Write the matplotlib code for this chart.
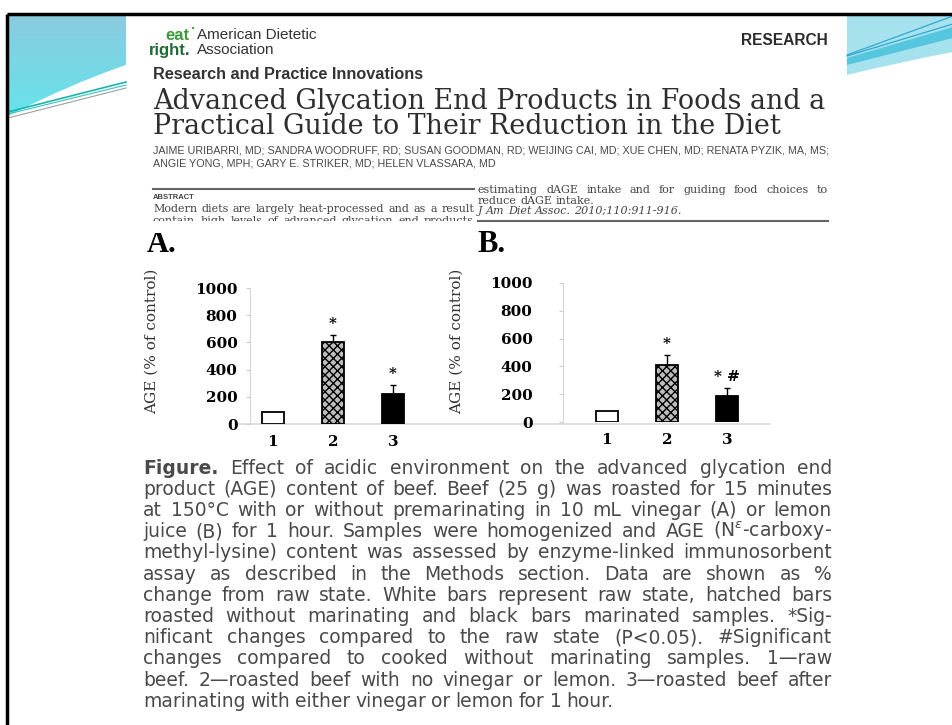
import numpy as np
import matplotlib.pyplot as plt
from matplotlib.patches import Rectangle, PathPatch
from matplotlib.path import Path
from matplotlib.colors import LinearSegmentedColormap

W, H = 953, 725

# AGE content, % of control (1 raw, 2 roasted, 3 marinated + roasted)
groups = ['1', '2', '3']
vinegar_age = [90, 606, 222]
vinegar_err = [0, 50, 62]
lemon_age = [80, 412, 190]
lemon_err = [0, 68, 55]
vinegar_marks = ['', '*', '*']
lemon_marks = ['', '*', '* #']
y_ticks = [0, 200, 400, 600, 800, 1000]

title_lines = ['Advanced Glycation End Products in Foods and a',
               'Practical Guide to Their Reduction in the Diet']
author_lines = ['JAIME URIBARRI, MD; SANDRA WOODRUFF, RD; SUSAN GOODMAN, RD; WEIJING CAI, MD; '
                'XUE CHEN, MD; RENATA PYZIK, MA, MS;',
                'ANGIE YONG, MPH; GARY E. STRIKER, MD; HELEN VLASSARA, MD']
caption_lines = [
    'Figure. Effect of acidic environment on the advanced glycation end',
    'product (AGE) content of beef. Beef (25 g) was roasted for 15 minutes',
    'at 150°C with or without premarinating in 10 mL vinegar (A) or lemon',
    r'juice (B) for 1 hour. Samples were homogenized and AGE (N$^{\epsilon}$-carboxy-',
    'methyl-lysine) content was assessed by enzyme-linked immunosorbent',
    'assay as described in the Methods section. Data are shown as %',
    'change from raw state. White bars represent raw state, hatched bars',
    'roasted without marinating and black bars marinated samples. *Sig-',
    'nificant changes compared to the raw state (P<0.05). #Significant',
    'changes compared to cooked without marinating samples. 1—raw',
    'beef. 2—roasted beef with no vinegar or lemon. 3—roasted beef after',
    'marinating with either vinegar or lemon for 1 hour.',
]

fig = plt.figure(figsize=(W / 100, H / 100), dpi=100)
r = fig.canvas.get_renderer()

# full-size layer in pixel units for the slide and page furniture
bg = fig.add_axes([0, 0, 1, 1])
bg.set_xlim(0, W)
bg.set_ylim(H, 0)
bg.axis('off')
bg.set_zorder(0)


def fit(x0, x1, y, s, **kw):
    t = bg.text(x0, y, s, va='center', **kw)
    w = t.get_window_extent(r).width
    t.set_fontsize(t.get_fontsize() * (x1 - x0) / w)
    return t


def justify(x0, x1, y, line, last=False, space=5, **kw):
    words = line.split(' ')
    items = []
    for w in words:
        weight = 'bold' if w == 'Figure.' else 'normal'
        items.append(bg.text(x0, y, w, va='center', fontweight=weight, **kw))
    widths = [t.get_window_extent(r).width for t in items]
    gap = space if last else (x1 - x0 - sum(widths)) / (len(words) - 1)
    x = x0
    for t, w in zip(items, widths):
        t.set_x(x)
        x += w + gap


# slide corner swooshes
grad = np.linspace(0, 1, 100).reshape(-1, 1)
left_shape = Path([(8, 15), (126, 15), (126, 65), (70, 84), (8, 116), (8, 15)],
                  [Path.MOVETO, Path.LINETO, Path.LINETO, Path.CURVE3, Path.CURVE3, Path.CLOSEPOLY])
clip = PathPatch(left_shape, transform=bg.transData, facecolor='none', edgecolor='none')
bg.add_patch(clip)
im = bg.imshow(grad, extent=[8, 126, 118, 15],
               cmap=LinearSegmentedColormap.from_list('sw', ['#8acbdf', '#66e4ea']),
               aspect='auto', zorder=1)
im.set_clip_path(clip)
bg.plot([8, 126], [112, 82], color='#19b3ae', lw=1.2, zorder=2)
bg.plot([8, 126], [114, 85], color='#39c3c0', lw=0.8, zorder=2)
bg.plot([8, 126], [118, 88], color='#a0a0a0', lw=0.8, zorder=2)

right_shape = Path([(847, 15), (953, 15), (953, 52), (900, 62), (847, 75), (847, 15)],
                   [Path.MOVETO, Path.LINETO, Path.LINETO, Path.CURVE3, Path.CURVE3, Path.CLOSEPOLY])
bg.add_patch(PathPatch(right_shape, facecolor='#a6e2ee', edgecolor='none', zorder=1))
band = Path([(847, 58), (953, 27), (953, 38), (847, 65), (847, 58)],
            [Path.MOVETO, Path.LINETO, Path.LINETO, Path.LINETO, Path.CLOSEPOLY])
bg.add_patch(PathPatch(band, facecolor='#56c5de', edgecolor='none', zorder=1))
bg.plot([847, 953], [55, 16], color='#2fa9cf', lw=0.9, zorder=2)
bg.plot([847, 953], [56, 24], color='#2fa9cf', lw=0.9, zorder=2)

# slide frame
bg.plot([7.5, W], [14, 14], color='black', lw=2.5, zorder=3, solid_capstyle='butt')
bg.plot([7.5, 7.5], [14, H], color='black', lw=2.5, zorder=3, solid_capstyle='butt')

# journal header
bg.text(165, 40, 'eat', color='#3c9a3c', fontweight='bold', fontsize=12, va='baseline',
        family='Liberation Sans')
bg.text(191, 29, '·', color='#3c9a3c', fontweight='bold', fontsize=8, va='center')
bg.text(149, 55, 'right.', color='#1f6a35', fontweight='bold', fontsize=12, va='baseline',
        family='Liberation Sans')
bg.text(197, 35, 'American Dietetic', color='#333333', fontsize=11, va='center', family='Liberation Sans')
bg.text(197, 50, 'Association', color='#333333', fontsize=11, va='center', family='Liberation Sans')
fit(741, 828, 40, 'RESEARCH', fontweight='bold', color='#2b2b2b', family='Liberation Sans')
fit(153, 423, 74, 'Research and Practice Innovations', fontweight='bold', color='#333333',
    family='Liberation Sans')

t = fit(153, 828, 101, title_lines[0], family='DejaVu Serif', color='#2e2e2e')
bg.text(153, 126, title_lines[1], va='center', family='DejaVu Serif', color='#2e2e2e',
        fontsize=t.get_fontsize())
t = fit(153, 828, 150, author_lines[0], family='Liberation Sans', color='#4a4a4a')
bg.text(153, 163, author_lines[1], va='center', family='Liberation Sans', color='#4a4a4a',
        fontsize=t.get_fontsize())

# abstract columns, cut by the figure below
abs_kw = dict(family='DejaVu Serif', color='#444444', fontsize=8)
bg.plot([153, 474], [189, 189], color='#666666', lw=1.5)
bg.text(153, 197, 'ABSTRACT', va='center', fontsize=5.5, fontweight='bold', color='#444444',
        family='Liberation Sans')
justify(153, 474, 209, 'Modern diets are largely heat-processed and as a result', **abs_kw)
justify(153, 474, 221, 'contain high levels of advanced glycation end products', **abs_kw)
bg.add_patch(Rectangle((140, 221), 336, 12, facecolor='white', edgecolor='none', zorder=5))
justify(478, 828, 190, 'estimating dAGE intake and for guiding food choices to', **abs_kw)
justify(478, 828, 200.5, 'reduce dAGE intake.', last=True, space=3.5, **abs_kw)
justify(478, 828, 211, 'J Am Diet Assoc. 2010;110:911-916.', last=True, space=3.5,
        style='italic', **abs_kw)
bg.plot([478, 828], [221, 221], color='#666666', lw=1.5)

# panel letters and axis titles
bg.text(147, 244, 'A.', va='center', fontsize=22, fontweight='bold', family='Liberation Serif')
bg.text(477, 244, 'B.', va='center', fontsize=22, fontweight='bold', family='Liberation Serif')
for xl in (152, 457):
    bg.text(xl, 341, 'AGE (% of control)', rotation=90, va='center', ha='center', fontsize=11,
            family='DejaVu Serif', color='#333333')
bg.plot([237, 770], [424, 424], color='#d9d9d9', lw=1.2)

# caption, justified
for i, line in enumerate(caption_lines):
    justify(143, 832, 468 + i * 21.2, line, last=(i == len(caption_lines) - 1),
            fontsize=13.5, family='DejaVu Sans', color='#4a4a4a')


def panel(left, right, base, top, xlo, vals, errs, marks, pad):
    ax = fig.add_axes([left / W, 1 - base / H, (right - left) / W, (base - top) / H])
    ax.set_zorder(2)
    ax.patch.set_alpha(0)
    x = np.arange(1, len(vals) + 1)
    bars = ax.bar(x, vals, width=0.36, color=['white', '#bdbdbd', 'black'],
                  edgecolor='black', linewidth=1.3)
    bars[1].set_hatch('xxxx')
    ax.errorbar(x[1:], vals[1:], yerr=[np.zeros(len(x) - 1), errs[1:]], fmt='none',
                ecolor='black', elinewidth=1, capsize=2)
    for xi, v, e, m in zip(x, vals, errs, marks):
        if m:
            ax.text(xi, v + e + 80, m, ha='center', va='center', fontsize=11,
                    fontweight='bold', family='DejaVu Serif')
    ax.set_ylim(0, 1000)
    ax.set_xlim(xlo, xlo + (right - left) / 60)
    ax.set_yticks(y_ticks)
    ax.set_xticks(x, groups)
    for lab in ax.get_xticklabels() + ax.get_yticklabels():
        lab.set_family('DejaVu Serif')
        lab.set_fontweight('bold')
    ax.tick_params(axis='y', length=3, color='#cccccc', pad=pad, labelsize=11)
    ax.tick_params(axis='x', length=0, pad=8, labelsize=11)
    for s in ('top', 'right', 'bottom'):
        ax.spines[s].set_visible(False)
    ax.spines['left'].set_color('#d6d6d6')
    return ax


panel(250, 440, 424, 288, 0.617, vinegar_age, vinegar_err, vinegar_marks, 6)
panel(563, 770, 422, 283, 0.267, lemon_age, lemon_err, lemon_marks, 19)

fig.savefig('out.png', dpi=100)
